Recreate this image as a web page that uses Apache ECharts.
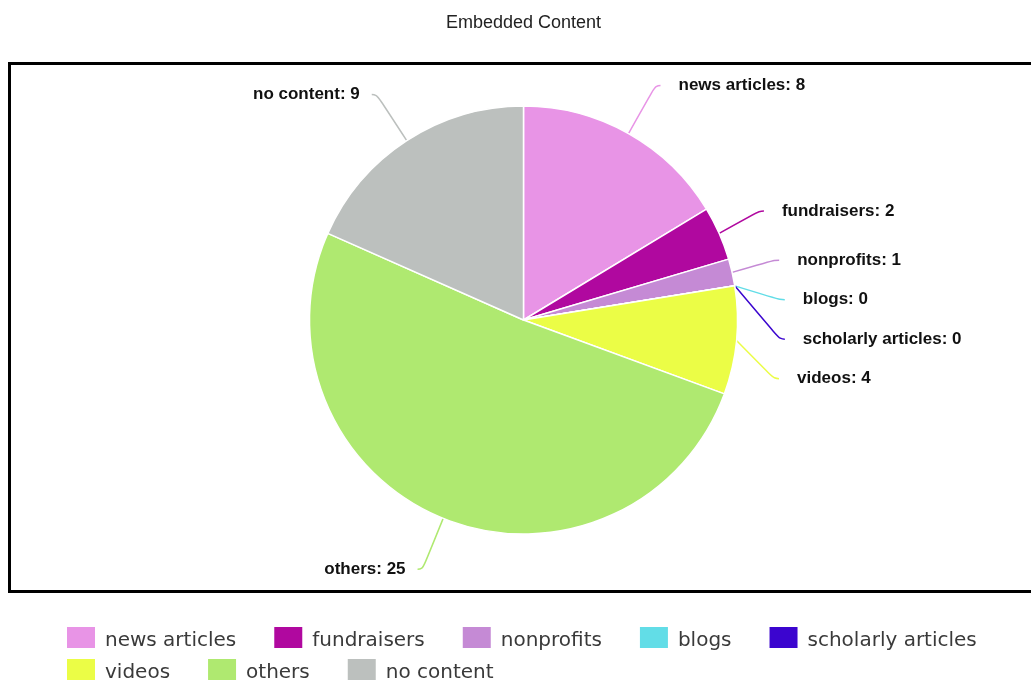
<!DOCTYPE html>
<html>
<head>
<meta charset="utf-8">
<script src="https://cdn.jsdelivr.net/npm/echarts@6/dist/echarts.min.js"></script>
<style>
html,body{margin:0;padding:0;background:#fff;}
#main{width:1031px;height:683px;}
</style>
</head>
<body>
<div id="main"></div>
<script>
const titleText = 'Embedded Content';
const categories = ['news articles','fundraisers','nonprofits','blogs','scholarly articles','videos','others','no content'];
const values = [8, 2, 1, 0, 0, 4, 25, 9];
const colors = ['#E894E6','#B0089F','#C58AD5','#62DDE7','#3B05CF','#EBFD46','#AFE970','#BCC0BE'];
const legendRow1 = categories.slice(0, 5);
const legendRow2 = categories.slice(5);

const chart = echarts.init(document.getElementById('main'), null, {renderer: 'canvas'});

const legendBase = {
  left: 62,
  orient: 'horizontal',
  icon: 'rect',
  itemWidth: 28,
  itemHeight: 21,
  itemGap: 38,
  itemStyle: {borderWidth: 0},
  formatter: '{t|{name}}',
  textStyle: {
    fontFamily: 'DejaVu Sans', fontSize: 20, color: '#3a3a3a', padding: [0, 0, 0, 5],
    rich: {t: {fontFamily: 'DejaVu Sans', fontSize: 20, color: '#3a3a3a', padding: [7, 0, 0, 0]}}
  }
};

chart.setOption({
  animation: false,
  backgroundColor: '#fff',
  color: colors,
  title: {
    text: titleText,
    left: 441,
    top: 9,
    textStyle: {fontFamily: 'Liberation Sans', fontSize: 18, fontWeight: 'normal', color: '#222'}
  },
  graphic: [{
    type: 'rect',
    silent: true,
    shape: {x: 9.5, y: 63.5, width: 1100, height: 528},
    style: {fill: 'none', stroke: '#000', lineWidth: 3}
  }],
  legend: [
    Object.assign({}, legendBase, {data: legendRow1, top: 622}),
    Object.assign({}, legendBase, {data: legendRow2, top: 654})
  ],
  series: [{
    type: 'pie',
    center: [523.5, 320],
    radius: 214,
    startAngle: 90,
    clockwise: true,
    avoidLabelOverlap: true,
    data: categories.map((c, i) => ({name: c, value: values[i]})),
    itemStyle: {borderColor: '#fff', borderWidth: 1.5},
    label: {
      show: true,
      formatter: '{b}: {c}',
      fontFamily: 'Liberation Sans',
      fontWeight: 'bold',
      fontSize: 17,
      lineHeight: 37.5,
      color: '#111',
      padding: [0, 0, 0, 6],
      distanceToLabelLine: 12
    },
    labelLine: {
      show: true,
      length: 55,
      length2: 5,
      smooth: 0.5,
      lineStyle: {width: 1.5}
    },
    emphasis: {disabled: true}
  }]
});
</script>
</body>
</html>
